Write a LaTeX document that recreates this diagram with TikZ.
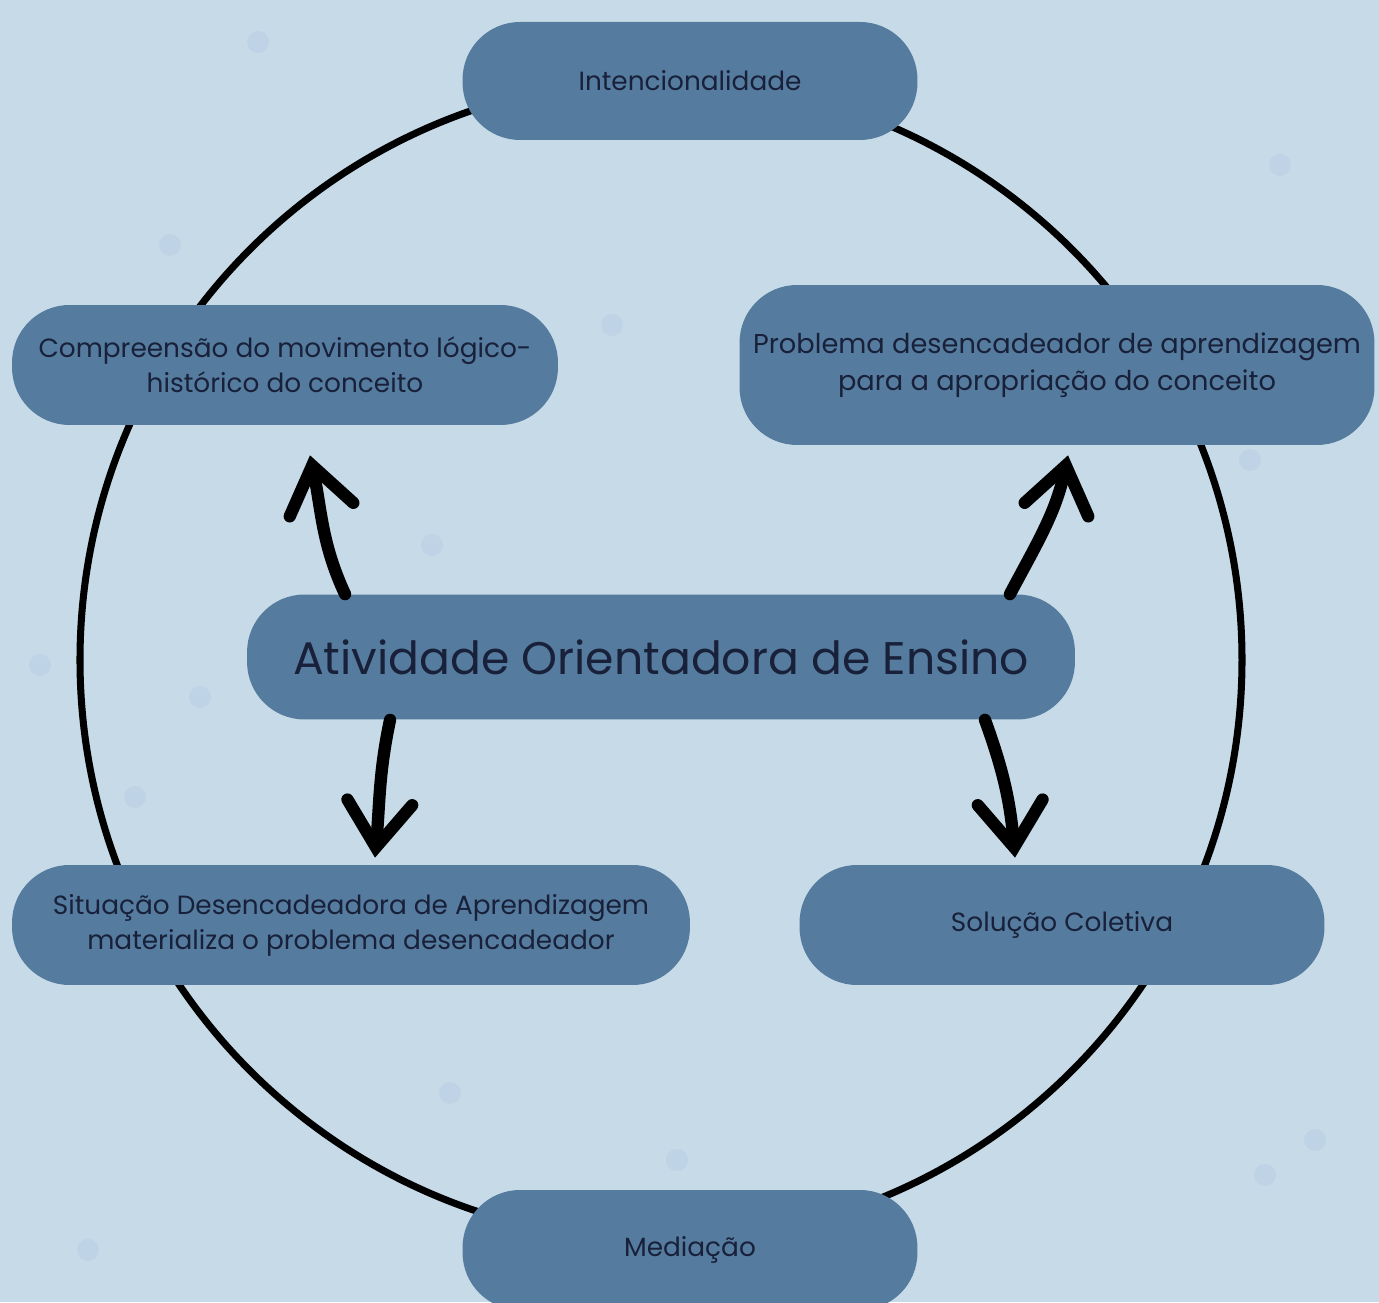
\documentclass[tikz,border=0pt]{standalone}
\usepackage{fontspec}
\setmainfont{Poppins}
\usetikzlibrary{arrows.meta}

\definecolor{bgblue}{HTML}{C7DAE7}
\definecolor{boxblue}{HTML}{557C9E}
\definecolor{inkblue}{HTML}{18203A}
\definecolor{dotblue}{HTML}{BFD3E6}

\tikzset{
  etapa/.style={rectangle,rounded corners=1.15cm,fill=boxblue,text=inkblue,
    align=center,inner sep=0pt,font=\fontsize{15}{20}\selectfont},
  seta/.style={line width=7pt,line cap=round,
    -{Straight Barb[length=9mm,width=13mm,line cap=round]}},
}

\begin{document}
\begin{tikzpicture}[x=0.02cm,y=0.02cm]
  \useasboundingbox[fill=bgblue] (0,0) rectangle (1379,1302);
  % pontinhos do fundo
  \foreach \px/\py in {258/1260,612/977,432/757,200/605,135/505,450/209,677/142,
      1265/127,1315/162,88/52,1280/1137,1250/842,40/637,170/1057}
    \fill[dotblue] (\px,\py) circle (11);
  \draw[line width=4pt] (661,642) circle (581);

  \node[etapa,minimum width=9.1cm,minimum height=2.36cm] (inte) at (690,1221) {Intencionalidade};
  \node[etapa,minimum width=10.92cm,minimum height=2.4cm] (comp) at (285,937) {Compreensão do movimento lógico-\\histórico do conceito};
  \node[etapa,minimum width=12.7cm,minimum height=3.2cm,font=\fontsize{15.5}{21}\selectfont] (prob) at (1057,937) {Problema desencadeador de aprendizagem\\para a apropriação do conceito};
  \node[etapa,minimum width=16.56cm,minimum height=2.5cm,font=\fontsize{26}{30}\selectfont] (aoe) at (661,645) {Atividade Orientadora de Ensino};
  \node[etapa,minimum width=13.56cm,minimum height=2.4cm] (situ) at (351,377) {Situação Desencadeadora de Aprendizagem\\materializa o problema desencadeador};
  \node[etapa,minimum width=10.5cm,minimum height=2.4cm] (solu) at (1062,377) {Solução Coletiva};
  \node[etapa,minimum width=9.1cm,minimum height=2.4cm] (medi) at (690,52) {Mediação};

  \draw[seta] ([xshift=-6.32cm]aoe.north) to[out=115,in=-78] ([xshift=0.5cm,yshift=-0.6cm]comp.south);
  \draw[seta] ([xshift=6.98cm]aoe.north) to[out=62,in=-102] ([xshift=0.22cm,yshift=-0.2cm]prob.south);
  \draw[seta] ([xshift=-5.42cm]aoe.south) to[out=-102,in=85] ([xshift=0.48cm,yshift=0.14cm]situ.north);
  \draw[seta] ([xshift=6.48cm]aoe.south) to[out=-70,in=95] ([xshift=-0.94cm,yshift=0.14cm]solu.north);
\end{tikzpicture}
\end{document}
